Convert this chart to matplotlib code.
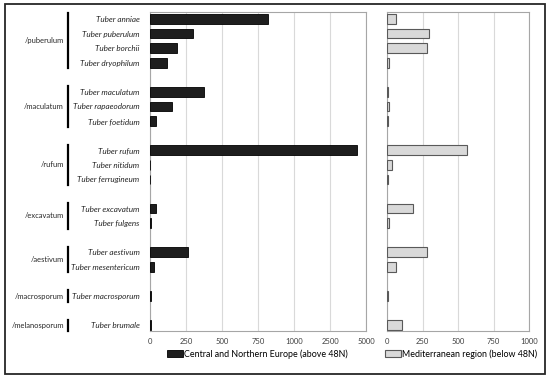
import matplotlib
matplotlib.use("Agg")
import matplotlib.pyplot as plt
import matplotlib.transforms as mtransforms
from matplotlib.patches import Rectangle, Patch
import numpy as np

# ---- data ----
groups = ["/puberulum", "/maculatum", "/rufum", "/excavatum", "/aestivum",
          "/macrosporum", "/melanosporum"]
species = [
    ["Tuber anniae", "Tuber puberulum", "Tuber borchii", "Tuber dryophilum"],
    ["Tuber maculatum", "Tuber rapaeodorum", "Tuber foetidum"],
    ["Tuber rufum", "Tuber nitidum", "Tuber ferrugineum"],
    ["Tuber excavatum", "Tuber fulgens"],
    ["Tuber aestivum", "Tuber mesentericum"],
    ["Tuber macrosporum"],
    ["Tuber brumale"],
]
north = [
    [820, 300, 190, 120],
    [375, 155, 40],
    [4400, 3, 2],
    [45, 8],
    [262, 30],
    [5],
    [10],
]
south = [
    [62, 295, 282, 14],
    [7, 16, 5],
    [560, 38, 5],
    [183, 14],
    [282, 60],
    [8],
    [105],
]
left_ticks = [0, 250, 500, 750, 1000, 2500, 5000]
right_ticks = [0, 250, 500, 750, 1000]
legend_labels = ["Central and Northern Europe (above 48N)",
                 "Mediterranean region (below 48N)"]

# ---- layout of category slots (blank slot between groups) ----
pos, labels, nvals, svals, group_spans = [], [], [], [], []
slot = 0
for g, sp, nv, sv in zip(groups, species, north, south):
    start = slot
    for s, a, b in zip(sp, nv, sv):
        pos.append(slot); labels.append(s); nvals.append(a); svals.append(b)
        slot += 1
    group_spans.append((start, slot - 1))
    slot += 1
last = pos[-1]

plt.rcParams['font.family'] = ['Lato', 'DejaVu Sans']

fig = plt.figure(figsize=(5.5, 3.8), dpi=100)
W, H = 550, 380

def ax_rect(x0, x1, ytop, ybot):
    return [x0 / W, (H - ybot) / H, (x1 - x0) / W, (ybot - ytop) / H]

axL = fig.add_axes(ax_rect(150, 366, 12, 331))
axR = fig.add_axes(ax_rect(387, 529, 12, 331))

bp = [0, 1000, 2500, 5000]
bq = [0, 4, 5, 6]
fwd = lambda x: np.interp(x, bp, bq, left=0, right=6)
inv = lambda y: np.interp(y, bq, bp)
axL.set_xscale('function', functions=(fwd, inv))

bh = 0.66
axL.barh(pos, nvals, height=bh, color='#1e1e1e', edgecolor='#000000', linewidth=0.6, zorder=3)
axR.barh(pos, svals, height=bh, color='#d9d9d9', edgecolor='#595959', linewidth=0.8, zorder=3)

axL.set_xlim(0, 5000)
axR.set_xlim(0, 1000)
for ax, ticks in ((axL, left_ticks), (axR, right_ticks)):
    ax.set_ylim(last + 0.4, -0.48)
    ax.set_xticks(ticks)
    ax.set_xticklabels([str(t) for t in ticks], fontsize=5.5, color='#404040')
    ax.xaxis.grid(True, color='#d9d9d9', linewidth=0.8, zorder=0)
    ax.set_axisbelow(True)
    ax.tick_params(axis='x', length=0, pad=5)
    ax.tick_params(axis='y', length=0)
    for sname, sp in ax.spines.items():
        sp.set_color('#a6a6a6')
        sp.set_linewidth(0.8)
    ax.minorticks_off()

axL.set_yticks(pos)
axL.set_yticklabels(labels, fontsize=5.9, style='italic', color='#262626')
axL.tick_params(axis='y', pad=7.5)
axR.set_yticks([])

trans = mtransforms.blended_transform_factory(fig.transFigure, axL.transData)
for g, (a, b) in zip(groups, group_spans):
    fig.add_artist(plt.Line2D([68 / W, 68 / W], [a - 0.38, b + 0.38],
                              transform=trans, color='#000000', linewidth=1.6))
    fig.text(64 / W, (a + b) / 2, g, transform=trans, ha='right', va='center',
             fontsize=5.4, color='#262626')

# legend
handles = [Patch(facecolor='#1e1e1e', edgecolor='#000000', linewidth=0.6),
           Patch(facecolor='#d9d9d9', edgecolor='#595959', linewidth=0.8)]
fig.legend([handles[0]], [legend_labels[0]], loc='center', bbox_to_anchor=(257 / W, 1 - 354 / H),
           frameon=False, fontsize=6.4, handlelength=1.8, handleheight=0.9,
           handletextpad=0.1, borderpad=0)
fig.legend([handles[1]], [legend_labels[1]], loc='center', bbox_to_anchor=(461 / W, 1 - 354 / H),
           frameon=False, fontsize=6.4, handlelength=1.8, handleheight=0.9,
           handletextpad=0.1, borderpad=0)

# outer frame
fig.add_artist(Rectangle((4.5 / W, 1 - 374 / H), 540 / W, 370 / H, transform=fig.transFigure,
                         fill=False, edgecolor='#262626', linewidth=1.3))

fig.savefig('out.png', dpi=100)
